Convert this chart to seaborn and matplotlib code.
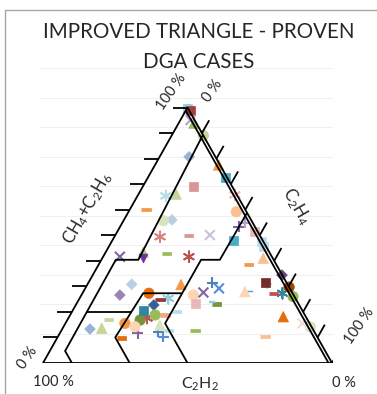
import numpy as np
import pandas as pd
import matplotlib
matplotlib.use('Agg')
import matplotlib.pyplot as plt
import seaborn as sns
from matplotlib.lines import Line2D

# ternary coordinates are (CH4+C2H6 %, C2H4 %), C2H2 is the rest
tick_pct = [0, 10, 20, 30, 40, 50, 60, 70, 80, 90, 100]

# zone boundaries of the improved triangle
zone_a = [(89.3, 10.7), (40.4, 12.8), (40.4, 5.0), (4.7, 5.3), (0, 10)]
zone_b = [(58.8, 41.2), (40.4, 41.0), (40.4, 34.5), (15.5, 34.5), (0, 50)]
zone_c = [(27.3, 34.5), (27.3, 21.0), (10.0, 20.0), (0, 30)]
zone_d = [(20.1, 5.2), (20.1, 20.6)]
inner_edge = [(98.8, 0), (0, 98.8)]

# proven DGA cases
case_ch4 = [99.5, 99.0, 99.0, 95.1, 93.9, 89.0, 80.7, 77.5, 72.5, 69.0,
            65.4, 66.1, 65.8, 60.2, 55.7, 56.0, 59.2, 49.4, 50.0, 50.1,
            48.1, 41.6, 43.4, 41.0, 42.9, 41.6, 38.4, 41.0, 47.5, 45.5,
            53.3, 51.3, 54.8, 30.7, 31.5, 29.2, 27.6, 26.6, 23.4, 24.0,
            23.1, 27.9, 31.7, 34.4, 29.7, 26.0, 27.3, 27.3, 31.0, 18.1,
            15.5, 15.5, 14.1, 10.3, 12.9, 30.8, 26.6, 27.3, 22.7, 20.7,
            25.3, 24.7, 16.8, 15.5, 14.2, 11.6, 9.8, 14.9, 20.0, 12.9,
            12.25, 10.3, 18.8, 18.8, 17.6, 13.3, 13.6, 17.0, 28.0]
case_c2h4 = [0.3, 0.8, 1.7, 3.5, 5.3, 11.0, 10.2, 22.0, 27.0, 17.5,
             9.8, 13.0, 33.5, 5.5, 13.8, 16.6, 37.3, 15.8, 25.4, 32.7,
             41.8, 5.8, 13.0, 14.2, 21.4, 29.7, 51.8, 55.7, 52.0, 53.5,
             41.0, 47.5, 42.5, 32.4, 42.9, 46.3, 41.7, 38.7, 40.9, 46.4,
             48.5, 55.9, 61.1, 65.5, 70.3, 73.5, 69.2, 66.0, 62.0, 74.1,
             82.0, 84.0, 85.5, 71.7, 46.1, 15.3, 13.3, 23.0, 27.0, 24.4,
             30.7, 28.1, 25.2, 20.6, 24.7, 27.0, 22.3, 33.0, 36.2, 36.9,
             33.8, 36.5, 32.8, 29.4, 27.2, 9.6, 13.5, 14.1, 57.7]
case_marker = ['s', '*', 's', 'x', '^', 'o', 'D', '^', 's', 's',
               '*', '^', '*', '-', 'o', 'D', 'o', '*', '-', 'x',
               's', 'x', '^', 'v', '-', '*', '-', '^', 's', 's',
               '+', 's', '+', '^', '+', 'x', 'x', 'o', 's', '.',
               '-', '^', 's', 'D', 'o', 'o', '*', '-', '+', '^',
               'x', '.', 'o', '-', '-', 'D', 'D', 'o', 'D', 's',
               '*', '-', 'o', 'o', 'o', '+', '-', '^', '-', '-',
               '+', '+', '-', 'o', '*', 'D', '^', '-', '.']
case_color = ['#93CDDD', '#4BACC6', '#A5403D', '#B3A2C7', '#9BBB59', '#C3D69B', '#95B3D7', '#F79646', '#4BACC6', '#DA9694',
              '#B7DEE8', '#C3D69B', '#E6B9B8', '#F79646', '#D7E4BD', '#B9CDE5', '#FAC090', '#D9827F', '#D99694', '#CCC1DA',
              '#4BACC6', '#8064A2', '#B3CC82', '#7030A0', '#9BBB59', '#C0504D', '#F79646', '#FAC090', '#B7DEE8', '#B7DEE8',
              '#8064A2', '#E6B9B8', '#B3A2C7', '#F79646', '#4F81BD', '#558ED5', '#8064A2', '#FCD5B5', '#E6B9B8', '#93CDDD',
              '#77933C', '#FCD5B5', '#772C2A', '#5F497A', '#984807', '#9BBB59', '#31859C', '#C0504D', '#C6D9F1', '#E46C0A',
              '#F2DCDB', '#4BACC6', '#D7E4BD', '#FAC090', '#9BBB59', '#B9CDE5', '#9983B5', '#E46C0A', '#376092', '#31859C',
              '#93CDDD', '#953735', '#77933C', '#F79646', '#FCD5B5', '#8064A2', '#E46C0A', '#D7E4BD', '#B7DEE8', '#B7DEE8',
              '#4F81BD', '#558ED5', '#F2A68A', '#9BBB59', '#C0504D', '#95B3D7', '#C3D69B', '#C3D69B', '#4BACC6']


def to_xy(a, b):
    a = np.asarray(a, dtype=float)
    b = np.asarray(b, dtype=float)
    return (b + a / 2) / 100, a / 100 * np.sqrt(3) / 2


def draw_path(ax, pts, **kw):
    a, b = zip(*pts)
    x, y = to_xy(a, b)
    ax.plot(x, y, color='black', lw=1.3, zorder=4, solid_capstyle='butt', **kw)


sns.set_style('white')
plt.rcParams['font.family'] = ['Lato', 'DejaVu Sans']
plt.rcParams['mathtext.fontset'] = 'custom'
plt.rcParams['mathtext.rm'] = 'Lato'
plt.rcParams['mathtext.it'] = 'Lato'

fig = plt.figure(figsize=(3.77, 3.94), dpi=100)
ax = fig.add_axes([40 / 377, 31 / 394, 293 / 377, 295 / 394])
ax.axis('off')

# excel style gridlines, very faint
for g in np.arange(0, 1.01, 0.1):
    ax.axhline(g, color='#F0F0F0', lw=0.8, zorder=0)

# triangle and zones
draw_path(ax, [(100, 0), (0, 0), (0, 100), (100, 0)])
draw_path(ax, inner_edge)
for z in [zone_a, zone_b, zone_c, zone_d]:
    draw_path(ax, z)

# ticks
for t in tick_pct[1:]:
    draw_path(ax, [(t, 0), (t, -5)])            # left axis
    draw_path(ax, [(100 - t, t), (105 - t, t)])  # right axis
for t in tick_pct[:-1]:
    draw_path(ax, [(0, t), (-5, t + 5)])        # bottom axis

# cases
x, y = to_xy(case_ch4, case_c2h4)
df = pd.DataFrame({'x': x, 'y': y, 'marker': case_marker, 'color': case_color})
dash = [(-1, -0.33), (1, -0.33), (1, 0.33), (-1, 0.33)]
styles = {
    's': dict(marker='s', s=42),
    'D': dict(marker='D', s=30),
    '^': dict(marker='^', s=55),
    'v': dict(marker='v', s=40),
    'o': dict(marker='o', s=55),
    'x': dict(marker='x', s=50, linewidth=1.5),
    '+': dict(marker='+', s=60, linewidth=1.5),
    '*': dict(marker=(6, 2, 0), s=60, linewidth=1.3),
    '-': dict(marker=dash, s=45),
    '.': dict(marker=dash, s=16),
}
for m, sub in df.groupby('marker'):
    kw = dict(styles[m])
    pal = {c: c for c in sub['color'].unique()}
    sns.scatterplot(data=sub, x='x', y='y', hue='color', palette=pal, ax=ax,
                    legend=False, edgecolor='face', zorder=3, **kw)
ax.set_xlim(-3 / 289, 1 + 1 / 289)
ax.set_ylim(0, 1)


def px(xp, yp):
    return xp / 377, 1 - yp / 394


# title
fig.text(*px(198.5, 38.3), 'IMPROVED TRIANGLE - PROVEN', ha='center', va='baseline',
         fontsize=14.8, color='#262626')
fig.text(*px(199, 68.3), 'DGA CASES', ha='center', va='baseline',
         fontsize=14.8, color='#262626')

# axis labels
lab = dict(fontsize=10.5, color='#262626', ha='center', va='center')
fig.text(*px(171, 92), '100 %', rotation=55, **lab)
fig.text(*px(213, 91), '0 %', rotation=55, **lab)
fig.text(*px(28, 358), '0 %', rotation=55, **lab)
fig.text(*px(359, 326), '100 %', rotation=55, **lab)
fig.text(*px(53, 382), '100 %', **lab)
fig.text(*px(344, 383), '0 %', **lab)
fig.text(*px(88, 208), 'CH$_4$+C$_2$H$_6$', rotation=60, fontsize=12,
         color='#262626', ha='center', va='center')
fig.text(*px(296, 206), 'C$_2$H$_4$', rotation=-60, fontsize=12,
         color='#262626', ha='center', va='center')
fig.text(*px(200, 376), 'C$_2$H$_2$', fontsize=11.5, color='#262626',
         ha='center', va='top')

# chart area border
fig.add_artist(Line2D([5 / 377, 5 / 377], [0, 1 - 10 / 394], transform=fig.transFigure,
                      color='#A6A6A6', lw=1))
fig.add_artist(Line2D([5 / 377, 1], [1 - 10 / 394, 1 - 10 / 394], transform=fig.transFigure,
                      color='#A6A6A6', lw=1))

fig.savefig('out.png', dpi=100)
